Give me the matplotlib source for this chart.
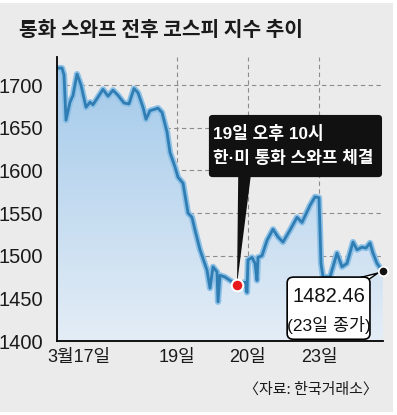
import numpy as np
import matplotlib
matplotlib.use('Agg')
import matplotlib.pyplot as plt
from matplotlib import font_manager
from matplotlib.colors import LinearSegmentedColormap
from matplotlib.patches import FancyBboxPatch, Rectangle

# KOSPI intraday index around the KRW-USD swap
t = [0, 5, 7, 9, 13, 16, 20, 24, 29, 33, 36, 41, 46, 51, 56, 61, 67, 72, 77, 81,
     86, 89, 93, 101, 105, 110, 113, 118, 121, 126, 131, 135, 138, 143, 150, 153,
     156, 160, 161, 163, 168, 173, 180, 188, 190, 191, 195, 198, 200, 201, 205,
     210, 216, 221, 226, 233, 240, 245, 253, 258, 262, 264, 266, 273, 280, 285,
     290, 296, 300, 305, 309, 313, 316, 320, 323, 326]
kospi = [1720, 1720, 1712, 1659, 1680, 1688, 1713, 1700, 1674, 1680, 1677, 1686,
         1695, 1687, 1694, 1688, 1679, 1678, 1696, 1691, 1674, 1660, 1670, 1673,
         1668, 1645, 1621, 1604, 1592, 1585, 1550, 1545, 1530, 1507, 1483, 1462,
         1487, 1481, 1446, 1477, 1475, 1471, 1466, 1469, 1457, 1495, 1498, 1491,
         1471, 1498, 1500, 1518, 1531, 1522, 1516, 1530, 1545, 1539, 1559, 1569,
         1568, 1491, 1475, 1475, 1503, 1487, 1491, 1516, 1507, 1510, 1509, 1515,
         1503, 1491, 1486, 1482.46]

day_ticks = [22, 120, 191, 262]
day_labels = ['3월17일', '19일', '20일', '23일']
day_lines = [120, 191, 262]
y_ticks = [1400, 1450, 1500, 1550, 1600, 1650, 1700]

swap_t, swap_v = 180, 1466
close_t, close_v = 326, 1482.46

names = {f.name for f in font_manager.fontManager.ttflist}
num_font = 'Liberation Sans Narrow' if 'Liberation Sans Narrow' in names else 'Liberation Sans'
fam = [num_font, 'Noto Sans CJK KR', 'DejaVu Sans']
kfam = ['Noto Sans CJK KR', 'DejaVu Sans']

bg = '#ebebeb'
fig = plt.figure(figsize=(3.97, 4.15), dpi=100)
fig.patch.set_facecolor('white')
fig.add_artist(Rectangle((0, 3 / 415), 393 / 397, 409 / 415, transform=fig.transFigure,
                         facecolor=bg, edgecolor='none', zorder=0))

ax = fig.add_axes([57 / 397, 1 - 341 / 415, 326 / 397, 284 / 415])
ax.set_facecolor(bg)
ax.set_xlim(0, 326)
ax.set_ylim(1400, 1733)

# grid
for y in y_ticks[1:]:
    ax.axhline(y, color='#8c8c8c', lw=0.8, ls=(0, (4, 3)), zorder=1)
for x in day_lines:
    ax.axvline(x, color='#8c8c8c', lw=0.8, ls=(0, (4, 3)), zorder=1)

# gradient area under the line
poly = ax.fill_between(t, kospi, 1400, facecolor='none', edgecolor='none')
cmap = LinearSegmentedColormap.from_list('fillgrad', ['#e4edf6', '#a2c9ea'])
grad = np.linspace(0, 1, 256).reshape(-1, 1)
im = ax.imshow(grad, cmap=cmap, aspect='auto', origin='lower',
               extent=[0, 326, 1400, 1725], zorder=2)
im.set_clip_path(poly.get_paths()[0], transform=ax.transData)

ax.plot(t, kospi, color='#8cc0e6', lw=4.5, zorder=3, solid_joinstyle='round')
ax.plot(t, kospi, color='#2f7db3', lw=2.0, zorder=4, solid_joinstyle='round')

for s in ['top', 'right']:
    ax.spines[s].set_visible(False)
for s in ['left', 'bottom']:
    ax.spines[s].set_color('black')
    ax.spines[s].set_linewidth(1.3)
    ax.spines[s].set_zorder(5)

ax.set_yticks(y_ticks)
ax.set_yticklabels([str(v) for v in y_ticks], family=fam, fontsize=14.5, color='#1a1a1a')
ax.set_xticks(day_ticks)
ax.set_xticklabels(day_labels, family=fam, fontsize=13, color='#1a1a1a')
ax.tick_params(axis='both', length=0)
ax.tick_params(axis='y', pad=10)
ax.tick_params(axis='x', pad=6)

# swap annotation (black box)
box = FancyBboxPatch((0.466, 0.577), 0.531, 0.219, transform=ax.transAxes,
                     boxstyle='round,pad=0,rounding_size=0.012', facecolor='#111111',
                     edgecolor='none', zorder=7, clip_on=False)
ax.add_patch(box)
ax.annotate('', xy=(swap_t, swap_v), xytext=(0.575, 0.58), textcoords='axes fraction',
            arrowprops=dict(arrowstyle='wedge,tail_width=0.9,shrink_factor=0.5',
                            facecolor='#111111', edgecolor='none', shrinkA=0, shrinkB=0),
            zorder=7)
ax.text(0.478, 0.732, '19일 오후 10시', transform=ax.transAxes, ha='left', va='center',
        family=fam, fontsize=12.3, fontweight='semibold', color='white', zorder=8)
ax.text(0.478, 0.644, '한·미 통화 스와프 체결', transform=ax.transAxes, ha='left', va='center',
        family=fam, fontsize=12.2, fontweight='semibold', color='white', zorder=8)
ax.scatter([swap_t], [swap_v], s=70, color='#e8191b', edgecolor='white', linewidth=1.5,
           zorder=9, clip_on=False)

# close callout (white box)
ax.annotate('', xy=(close_t, close_v), xytext=(0.91, 0.2), textcoords='axes fraction',
            arrowprops=dict(arrowstyle='wedge,tail_width=0.7,shrink_factor=0.5',
                            facecolor='white', edgecolor='black', lw=1.0,
                            shrinkA=0, shrinkB=4),
            zorder=6)
cbox = FancyBboxPatch((0.706, 0.006), 0.254, 0.219, transform=ax.transAxes,
                      boxstyle='round,pad=0,rounding_size=0.02', facecolor='white',
                      edgecolor='black', lw=1.2, zorder=7, clip_on=False)
ax.add_patch(cbox)
ax.text(0.833, 0.155, f'{close_v:.2f}', transform=ax.transAxes, ha='center', va='center',
        family=fam, fontsize=14.5, color='#111111', zorder=8)
ax.text(0.833, 0.058, '(23일 종가)', transform=ax.transAxes, ha='center', va='center',
        family=fam, fontsize=12.5, color='#111111', zorder=8)
ax.scatter([close_t], [close_v], s=45, color='#111111', edgecolor='white', linewidth=1.2,
           zorder=9, clip_on=False)

fig.text(19 / 397, 1 - 30 / 415, '통화 스와프 전후 코스피 지수 추이', family=kfam,
         fontsize=14.6, fontweight='heavy', color='#1a1a1a', ha='left', va='center')
fig.text(378 / 397, 1 - 390 / 415, '〈자료: 한국거래소〉', family=kfam, fontsize=10.8,
         color='#1a1a1a', ha='right', va='center')

fig.savefig('out.png', dpi=100, facecolor=fig.get_facecolor())
